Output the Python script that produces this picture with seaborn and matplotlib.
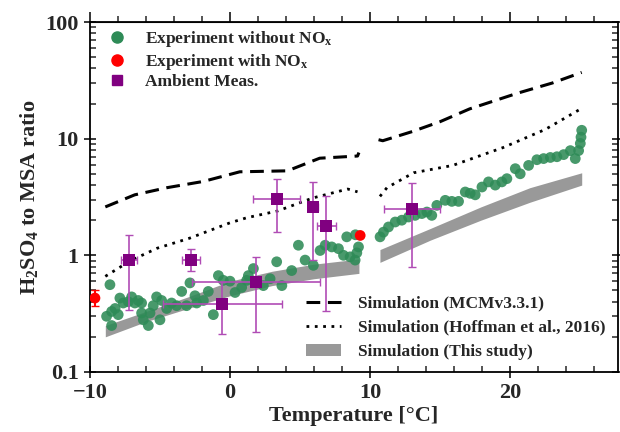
import numpy as np
import pandas as pd
import seaborn as sns
import matplotlib.pyplot as plt
from matplotlib.lines import Line2D
from matplotlib.patches import Patch
from matplotlib.ticker import MultipleLocator, LogLocator, NullFormatter, FixedLocator, FixedFormatter

# --- simulations (two temperature segments each) ---
mcm_x1 = [-8.9, -6.8, -4.5, -1.9, 0.7, 4.1, 6.4, 9.1, 9.2]
mcm_y1 = [2.6, 3.3, 3.8, 4.3, 5.2, 5.3, 6.8, 7.1, 7.6]
mcm_x2 = [10.6, 10.9, 13.0, 15.0, 17.1, 20.5, 23.0, 25.1]
mcm_y2 = [9.8, 9.6, 11.5, 14.0, 18.0, 24.5, 30.0, 37.0]

hof_x1 = [-8.9, -7.1, -5.2, -2.9, 0.0, 1.2, 3.4, 5.9, 8.4, 9.1]
hof_y1 = [0.66, 0.9, 1.15, 1.4, 1.9, 2.1, 2.4, 3.1, 3.7, 3.5]
hof_x2 = [10.7, 11.2, 13.1, 15.9, 19.5, 22.5, 25.1]
hof_y2 = [3.2, 3.8, 5.1, 5.9, 8.4, 12.0, 18.2]

band_x1 = [-8.9, -6.0, -3.0, 0.0, 3.0, 6.0, 9.2]
band_lo1 = [0.20, 0.27, 0.35, 0.45, 0.55, 0.63, 0.70]
band_hi1 = [0.25, 0.33, 0.44, 0.60, 0.73, 0.84, 0.93]
band_x2 = [10.7, 14.3, 17.9, 21.4, 25.1]
band_lo2 = [0.87, 1.35, 2.0, 2.85, 4.0]
band_hi2 = [1.12, 1.7, 2.6, 3.8, 5.1]

# --- experiment without NOx ---
exp_t = [-8.57, -8.81, -8.45, -8.2, -7.98, -8.45, -7.86, -7.62, -7.26, -7.02,
         -6.79, -6.55, -6.31, -6.31, -5.83, -6.19, -5.71, -5.48, -5.24, -5.0,
         -4.88, -4.52, -4.17, -3.45, -3.81, -3.1, -2.86, -2.5, -2.38, -1.9,
         -1.55, -1.19, -0.83, -0.48, 0.0, 0.36, 0.83, 1.19,
         1.31, 1.67, 2.38, 2.86, 3.33, 3.7, 4.4, 4.88, 5.36, 5.95, 6.43, 6.79,
         7.26, 7.74, 8.1, 8.33, 8.57, 8.93, 9.05, 9.17, 8.95,
         10.71, 10.95, 11.31, 11.79, 12.26, 12.74, 13.21, 13.69, 14.05, 14.4,
         14.76, 15.36, 15.83, 16.31, 16.79, 17.14, 17.5, 17.98, 18.45, 18.93,
         19.4, 19.76, 20.36, 20.71, 21.31, 21.9, 22.38, 22.86, 23.33, 23.81,
         24.29, 24.64, 24.88, 25.0, 25.05, 25.1]
exp_r = [0.56, 0.30, 0.33, 0.35, 0.31, 0.25, 0.43, 0.39, 0.40, 0.44,
         0.39, 0.41, 0.39, 0.32, 0.25, 0.28, 0.32, 0.37, 0.44, 0.28,
         0.41, 0.35, 0.39, 0.49, 0.37, 0.37, 0.58, 0.45, 0.39, 0.41,
         0.49, 0.31, 0.67, 0.61, 0.60, 0.48, 0.53, 0.61,
         0.67, 0.77, 0.55, 0.63, 0.88, 0.55, 0.74, 1.22, 0.91, 0.82, 1.10, 1.22,
         1.18, 1.14, 1.0, 1.44, 0.97, 0.91, 1.05, 1.18, 1.5,
         1.44, 1.58, 1.75, 1.93, 2.0, 2.13, 2.2, 2.28, 2.35, 2.2,
         2.68, 2.96, 2.9, 2.9, 3.49, 3.4, 3.3, 3.85, 4.26, 4.0,
         4.26, 4.54, 5.53, 5.0, 5.9, 6.6, 6.75, 6.9, 7.0, 7.3,
         7.9, 6.75, 7.9, 9.1, 10.3, 11.8]

# --- experiment with NOx ---
nox_t = [-9.64, 9.29]
nox_r = [0.43, 1.48]
nox_lo = [0.37, 1.48]
nox_hi = [0.50, 1.48]

# --- ambient measurements ---
amb_t = [-7.19, -2.81, -0.57, 1.86, 3.33, 5.95, 6.86, 12.98]
amb_r = [0.92, 0.92, 0.38, 0.59, 3.06, 2.6, 1.77, 2.48]
amb_tlo = [0.57, 0.65, 4.24, 4.55, 1.7, 0.36, 0.67, 2.0]
amb_thi = [0.57, 0.65, 4.28, 4.55, 1.7, 0.36, 0.67, 2.0]
amb_rlo = [0.34, 0.74, 0.21, 0.22, 1.58, 0.91, 0.33, 0.79]
amb_rhi = [1.50, 1.14, 0.59, 0.97, 4.54, 4.25, 3.2, 4.17]

sns.set_style('ticks')
plt.rcParams['font.family'] = ['Liberation Serif', 'DejaVu Serif']
plt.rcParams['font.weight'] = 'bold'
plt.rcParams['axes.labelweight'] = 'bold'
plt.rcParams['mathtext.fontset'] = 'custom'
plt.rcParams['mathtext.rm'] = 'Liberation Serif:bold'
plt.rcParams['mathtext.bf'] = 'Liberation Serif:bold'
plt.rcParams['mathtext.it'] = 'Liberation Serif:bold'

fig = plt.figure(figsize=(6.2, 4.32), dpi=100)
ax = fig.add_axes([0.145, 0.139, 0.852, 0.810])

green = '#2E8B57'
grey = '#999999'

# gray band
ax.fill_between(band_x1, band_lo1, band_hi1, color=grey, lw=0, zorder=1)
ax.fill_between(band_x2, band_lo2, band_hi2, color=grey, lw=0, zorder=1)

# simulation lines
for xs, ys in [(mcm_x1, mcm_y1), (mcm_x2, mcm_y2)]:
    sns.lineplot(x=xs, y=ys, ax=ax, color='black', lw=2.2, sort=False,
                 estimator=None, zorder=2).lines[-1].set_dashes([4.5, 2.5])
for xs, ys in [(hof_x1, hof_y1), (hof_x2, hof_y2)]:
    sns.lineplot(x=xs, y=ys, ax=ax, color='black', lw=2.0, sort=False,
                 estimator=None, zorder=2).lines[-1].set_dashes([1, 2])

# experiments
exp_df = pd.DataFrame({'t': exp_t, 'r': exp_r})
sns.scatterplot(data=exp_df, x='t', y='r', ax=ax, color=green, s=60,
                edgecolor='none', alpha=0.88, zorder=3)

nox_df = pd.DataFrame({'t': nox_t, 'r': nox_r})
ax.errorbar(nox_t, nox_r,
            yerr=[np.array(nox_r) - np.array(nox_lo), np.array(nox_hi) - np.array(nox_r)],
            fmt='none', ecolor='red', elinewidth=1.5, capsize=3, zorder=4)
sns.scatterplot(data=nox_df, x='t', y='r', ax=ax, color='red', s=60,
                edgecolor='none', zorder=5)

amb_df = pd.DataFrame({'t': amb_t, 'r': amb_r})
ax.errorbar(amb_t, amb_r, xerr=[amb_tlo, amb_thi],
            yerr=[np.array(amb_r) - np.array(amb_rlo), np.array(amb_rhi) - np.array(amb_r)],
            fmt='none', ecolor='#B04CB5', elinewidth=1.2, capsize=3, zorder=6)
sns.scatterplot(data=amb_df, x='t', y='r', ax=ax, color='purple', marker='s',
                s=75, edgecolor='none', zorder=7)

ax.set_yscale('log')
ax.set_xlim(-10, 27.7)
ax.set_ylim(0.1, 100)
ax.yaxis.set_major_locator(FixedLocator([0.1, 1, 10, 100]))
ax.yaxis.set_major_formatter(FixedFormatter(['0.1', '1', '10', '100']))
ax.yaxis.set_minor_locator(LogLocator(base=10, subs=np.arange(2, 10)))
ax.yaxis.set_minor_formatter(NullFormatter())
ax.xaxis.set_major_locator(MultipleLocator(10))
ax.xaxis.set_minor_locator(MultipleLocator(2))
ax.set_xticks([-10, 0, 10, 20])
ax.set_xticklabels(['\u221210', '0', '10', '20'])

ax.tick_params(which='major', direction='inout', length=9, width=1.3,
               labelsize=16, right=True)
ax.tick_params(which='minor', direction='in', length=4, width=1.1, right=True)
ax.tick_params(axis='y', which='both', labelright=False)
for sp in ax.spines.values():
    sp.set_linewidth(1.3)
    sp.set_color('black')

top = ax.secondary_xaxis('top')
top.xaxis.set_major_locator(MultipleLocator(10))
top.xaxis.set_minor_locator(MultipleLocator(2))
top.tick_params(which='major', direction='out', length=7, width=1.3, labeltop=False)
top.tick_params(which='minor', direction='out', length=4, width=1.1)
top.set_xticklabels([])

ax.set_xlabel('Temperature [\u00b0C]', fontsize=16, fontweight='bold', labelpad=2)
ax.set_ylabel('H$_\\mathbf{2}$SO$_\\mathbf{4}$ to MSA ratio', fontsize=16,
              fontweight='bold', labelpad=4)

h1 = [Line2D([], [], ls='none', marker='o', color=green, ms=8),
      Line2D([], [], ls='none', marker='o', color='red', ms=8),
      Line2D([], [], ls='none', marker='s', color='purple', ms=7)]
l1 = ['Experiment without NO$_\\mathbf{x}$', 'Experiment with NO$_\\mathbf{x}$', 'Ambient Meas.']
leg1 = ax.legend(h1, l1, loc='upper left', frameon=False,
                 prop={'weight': 'bold', 'size': 12.5}, handletextpad=1.0,
                 handlelength=1.2, borderaxespad=0.0, borderpad=0.2,
                 labelspacing=0.15, bbox_to_anchor=(0.025, 0.99))
ax.add_artist(leg1)

h2 = [Line2D([], [], color='black', lw=2.2, dashes=[4.5, 2.5]),
      Line2D([], [], color='black', lw=2.0, dashes=[1, 2]),
      Patch(facecolor=grey, edgecolor='none')]
l2 = ['Simulation (MCMv3.3.1)', 'Simulation (Hoffman et al., 2016)', 'Simulation (This study)']
ax.legend(h2, l2, loc='lower right', frameon=False,
          prop={'weight': 'bold', 'size': 12.5}, handlelength=2.0,
          handletextpad=1.0, labelspacing=0.45, borderaxespad=0.3,
          bbox_to_anchor=(1.0, 0.0))

fig.savefig('out.png', dpi=100)
